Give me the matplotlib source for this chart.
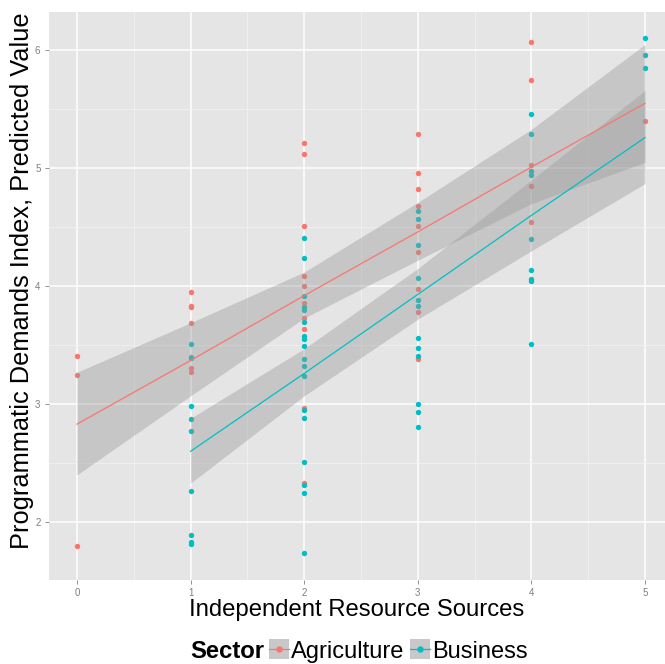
import matplotlib
matplotlib.use("Agg")
import matplotlib.pyplot as plt
from matplotlib.lines import Line2D
from matplotlib.patches import Rectangle
from matplotlib.legend_handler import HandlerTuple
import numpy as np

plt.rcParams['font.family'] = ['Liberation Sans', 'DejaVu Sans']

# ---- data ----
agri_x = [0, 0, 0,
          1, 1, 1, 1, 1, 1, 1,
          2, 2, 2, 2, 2, 2, 2, 2, 2, 2,
          3, 3, 3, 3, 3, 3, 3, 3, 3,
          4, 4, 4, 4, 4,
          5]
agri_y = [3.41, 3.25, 1.80,
          3.95, 3.83, 3.82, 3.69, 3.40, 3.31, 3.27,
          5.21, 5.12, 4.51, 4.09, 4.00, 3.86, 3.73, 3.64, 2.97, 2.33,
          5.29, 4.96, 4.82, 4.68, 4.51, 4.29, 3.98, 3.78, 3.38,
          6.07, 5.75, 5.03, 4.85, 4.54,
          5.40]
bus_x = [1, 1, 1, 1, 1, 1, 1, 1, 1,
         2, 2, 2, 2, 2, 2, 2, 2, 2, 2, 2, 2, 2, 2, 2, 2, 2, 2,
         3, 3, 3, 3, 3, 3, 3, 3, 3, 3, 3, 3,
         4, 4, 4, 4, 4, 4, 4, 4, 4,
         5, 5, 5]
bus_y = [3.51, 3.39, 2.98, 2.87, 2.77, 2.26, 1.89, 1.83, 1.81,
         4.41, 4.24, 3.92, 3.82, 3.80, 3.70, 3.58, 3.55, 3.49, 3.38, 3.32, 3.24, 2.95, 2.88, 2.51, 2.31, 2.25, 1.74,
         4.64, 4.57, 4.35, 4.07, 3.88, 3.83, 3.56, 3.48, 3.41, 3.00, 2.93, 2.81,
         5.46, 5.29, 4.98, 4.94, 4.40, 4.14, 4.06, 4.04, 3.51,
         6.10, 5.96, 5.85]

# fitted lines and confidence bands, read at the integer x positions
agri_fx = [0, 1, 2, 3, 4, 5]
agri_fit = [2.83, 3.37, 3.92, 4.46, 5.01, 5.55]
agri_lo = [2.40, 3.07, 3.73, 4.22, 4.70, 5.05]
agri_hi = [3.27, 3.69, 4.12, 4.71, 5.33, 6.05]

bus_fx = [1, 2, 3, 4, 5]
bus_fit = [2.60, 3.26, 3.93, 4.60, 5.26]
bus_lo = [2.33, 3.07, 3.72, 4.30, 4.87]
bus_hi = [2.88, 3.47, 4.15, 4.90, 5.66]

groups = ["Agriculture", "Business"]
colors = ["#F8766D", "#00BFC4"]

xticks = [0, 1, 2, 3, 4, 5]
yticks = [2, 3, 4, 5, 6]

# ---- figure ----
fig = plt.figure(figsize=(6.65, 6.64), dpi=100)
ax = fig.add_axes([48.8 / 665, 1 - 579.5 / 664, 1 - 48.8 / 665, (579.5 - 12.3) / 664])
ax.set_facecolor("#E5E5E5")
for s in ax.spines.values():
    s.set_visible(False)

ax.set_xlim(-0.248, 5.176)
ax.set_ylim(1.513, 6.322)
ax.set_xticks(xticks)
ax.set_yticks(yticks)
ax.set_xticks([0.5, 1.5, 2.5, 3.5, 4.5], minor=True)
ax.set_yticks([2.5, 3.5, 4.5, 5.5], minor=True)
ax.grid(True, which="major", color="white", linewidth=1.1)
ax.grid(True, which="minor", color="#F2F2F2", linewidth=0.6)
ax.set_axisbelow(True)
ax.tick_params(which="major", colors="#7F7F7F", labelsize=7, length=3, width=0.6, pad=3)
ax.tick_params(which="minor", length=0)

ax.scatter(agri_x, agri_y, s=15, color=colors[0], linewidths=0, zorder=2)
ax.scatter(bus_x, bus_y, s=15, color=colors[1], linewidths=0, zorder=2)

ax.fill_between(agri_fx, agri_lo, agri_hi, color="#999999", alpha=0.4, linewidth=0, zorder=3)
ax.fill_between(bus_fx, bus_lo, bus_hi, color="#999999", alpha=0.4, linewidth=0, zorder=3)
ax.plot(agri_fx, agri_fit, color=colors[0], linewidth=0.9, zorder=4)
ax.plot(bus_fx, bus_fit, color=colors[1], linewidth=0.9, zorder=4)

ax.set_xlabel("Independent Resource Sources", fontsize=17.2, labelpad=1)
ax.set_ylabel("Programmatic Demands Index, Predicted Value", fontsize=18.3)
ax.yaxis.set_label_coords(-0.024, 0.526)

# legend
handles = []
for c in colors:
    box = Rectangle((0, 0), 1, 1, facecolor="#C8C8C8", edgecolor="none")
    ln = Line2D([], [], color=c, marker="o", markersize=3.6, linewidth=0.9)
    handles.append((box, ln))
fig.text(190 / 665, 1 - 651 / 664, "Sector", fontsize=17.2, fontweight="bold", va="center", ha="left")
fig.legend(handles, groups, loc="center left", bbox_to_anchor=(269 / 665, 1 - 651 / 664),
           ncol=2, frameon=False, fontsize=17, handler_map={tuple: HandlerTuple(ndivide=1, pad=0)},
           handlelength=0.85, handleheight=0.93, handletextpad=0.1, columnspacing=0.2, borderpad=0,
           borderaxespad=0)

fig.savefig("out.png", dpi=100)
